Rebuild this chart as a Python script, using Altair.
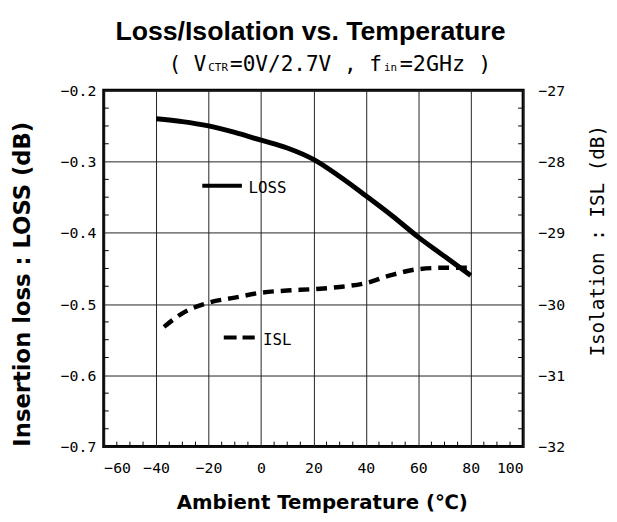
import altair as alt
import pandas as pd

# ---- data ----
loss_temp = [-40, -30, -20, -10, 0, 10, 20, 30, 40, 50, 60, 70, 80]
loss_db = [-0.240, -0.244, -0.250, -0.259, -0.270, -0.281, -0.297, -0.321,
           -0.348, -0.376, -0.406, -0.433, -0.460]
isl_temp = [-37, -30, -20, -10, 0, 10, 20, 30, 40, 50, 60, 70, 80]
isl_db = [-30.32, -30.13, -29.98, -29.91, -29.84, -29.81, -29.79, -29.76,
          -29.705, -29.59, -29.51, -29.49, -29.49]

x_ticks = [-60, -40, -20, 0, 20, 40, 60, 80, 100]
loss_ticks = [-0.7, -0.6, -0.5, -0.4, -0.3, -0.2]
isl_ticks = [-32, -31, -30, -29, -28, -27]
minor_x = [-55, -50, -45, -35, -30, -25, -15, -10, -5, 5, 10, 15, 25, 30, 35,
           45, 50, 55, 65, 70, 75, 85, 90, 95]
minor_y = [-0.675, -0.65, -0.625, -0.575, -0.55, -0.525, -0.475, -0.45, -0.425,
           -0.375, -0.35, -0.325, -0.275, -0.25, -0.225]

# legend annotation positions (data units)
loss_key_x = [-22.4, -7.3]
loss_key_y = -0.334
isl_key_x = [-14.2, -2.4]
isl_key_y = -0.547

MONO = "DejaVu Sans Mono"
SANS = "DejaVu Sans"

loss_df = pd.DataFrame({"t": loss_temp, "loss": loss_db})
isl_df = pd.DataFrame({"t": isl_temp, "isl": isl_db})
mx_df = pd.DataFrame({"t": minor_x})
my_df = pd.DataFrame({"loss": minor_y})
one = pd.DataFrame({"a": [0]})

xscale = alt.Scale(domain=[-60, 100], nice=False)
yscale = alt.Scale(domain=[-0.7, -0.2], nice=False, zero=False)

ax_x = alt.Axis(
    values=x_ticks, grid=True, gridColor="#222", gridWidth=1, ticks=False,
    domain=False, labelFont=MONO, labelFontSize=15, labelColor="black",
    labelPadding=14, title="Ambient Temperature (℃)", titleFont=SANS,
    titleFontSize=20, titleFontWeight="bold", titleColor="black",
    titleX=221, titleY=63, titleAlign="center", titleBaseline="alphabetic")
ax_y = alt.Axis(
    values=loss_ticks, format=".1f", grid=True, gridColor="#222",
    gridWidth=1, ticks=False, domain=False, labelFont=MONO,
    labelFontSize=15, labelColor="black", labelPadding=8,
    title="Insertion loss : LOSS (dB)", titleFont=SANS, titleFontSize=23,
    titleFontWeight="bold", titleColor="black", titleAngle=270,
    titleX=-82, titleY=196, titleAlign="center", titleBaseline="middle")

loss_line = alt.Chart(loss_df).mark_line(
    color="black", strokeWidth=5, interpolate="monotone"
).encode(
    x=alt.X("t:Q", scale=xscale, axis=ax_x),
    y=alt.Y("loss:Q", scale=yscale, axis=ax_y),
)

tick_bottom = alt.Chart(mx_df).mark_rule(color="black", strokeWidth=1).encode(
    x=alt.X("t:Q", scale=xscale, axis=ax_x),
    y=alt.YDatum(-0.7, scale=yscale, axis=ax_y),
    y2=alt.Y2Datum(-0.693),
)
tick_left = alt.Chart(my_df).mark_rule(color="black", strokeWidth=1).encode(
    x=alt.XDatum(-60, scale=xscale, axis=ax_x),
    x2=alt.X2Datum(-58.1),
    y=alt.Y("loss:Q", scale=yscale, axis=ax_y),
)
tick_right = alt.Chart(my_df).mark_rule(color="black", strokeWidth=1).encode(
    x=alt.XDatum(100, scale=xscale, axis=ax_x),
    x2=alt.X2Datum(98.1),
    y=alt.Y("loss:Q", scale=yscale, axis=ax_y),
)

loss_key = alt.Chart(one).mark_rule(color="black", strokeWidth=4).encode(
    x=alt.XDatum(loss_key_x[0], scale=xscale, axis=ax_x),
    x2=alt.X2Datum(loss_key_x[1]),
    y=alt.YDatum(loss_key_y, scale=yscale, axis=ax_y),
)
loss_key_t = alt.Chart(one).mark_text(
    font=MONO, fontSize=16, align="left", baseline="middle", color="black"
).encode(
    x=alt.XDatum(loss_key_x[1] + 2.5, scale=xscale, axis=ax_x),
    y=alt.YDatum(loss_key_y - 0.003, scale=yscale, axis=ax_y),
    text=alt.value("LOSS"),
)
isl_key = alt.Chart(one).mark_rule(color="black", strokeWidth=4,
                                   strokeDash=[13, 6]).encode(
    x=alt.XDatum(isl_key_x[0], scale=xscale, axis=ax_x),
    x2=alt.X2Datum(isl_key_x[1]),
    y=alt.YDatum(isl_key_y, scale=yscale, axis=ax_y),
)
isl_key_t = alt.Chart(one).mark_text(
    font=MONO, fontSize=16, align="left", baseline="middle", color="black"
).encode(
    x=alt.XDatum(isl_key_x[1] + 3.2, scale=xscale, axis=ax_x),
    y=alt.YDatum(isl_key_y - 0.003, scale=yscale, axis=ax_y),
    text=alt.value("ISL"),
)


def label(txt, x, y, size, font=MONO, weight="normal", align="left"):
    return alt.Chart(one).mark_text(
        font=font, fontSize=size, fontWeight=weight, align=align,
        baseline="alphabetic", color="black"
    ).encode(x=alt.value(x), y=alt.value(y), text=alt.value(txt))


title = label("Loss/Isolation vs. Temperature", 209.5, -51, 27,
              font="Liberation Sans", weight="bold", align="center")
sub1 = label("( V", 66, -20, 21)
sub2 = label("CTR", 106, -20, 11)
sub3 = label("=0V/2.7V , f", 128, -20, 21.3)
sub4 = label("in", 284, -20, 11)
sub5 = label("=2GHz )", 300, -20, 22)

left = alt.layer(loss_line, tick_bottom, tick_left, tick_right, loss_key,
                 loss_key_t, isl_key, isl_key_t, title, sub1, sub2, sub3,
                 sub4, sub5)

isl_line = alt.Chart(isl_df).mark_line(
    color="black", strokeWidth=4.5, strokeDash=[11, 7], interpolate="monotone"
).encode(
    x=alt.X("t:Q", scale=xscale, axis=ax_x),
    y=alt.Y("isl:Q", scale=alt.Scale(domain=[-32, -27], nice=False, zero=False),
            axis=alt.Axis(
                orient="right", values=isl_ticks, format="d", grid=False,
                ticks=False, domain=False, labelFont=MONO, labelFontSize=15,
                labelColor="black", labelPadding=15,
                title="Isolation : ISL (dB)", titleFont=MONO,
                titleFontSize=19.5, titleFontWeight="normal",
                titleColor="black", titleAngle=270, titleX=75, titleY=152,
                titleAlign="center", titleBaseline="middle")),
)

chart = alt.layer(left, isl_line).resolve_scale(y="independent").properties(
    width=425, height=361,
    autosize=alt.AutoSizeParams(type="none"),
    padding={"left": 97, "top": 80, "right": 87, "bottom": 73},
    background="white",
).configure_view(stroke="black", strokeWidth=3)

chart.save("out.html", embed_options={"renderer": "svg", "actions": False})
